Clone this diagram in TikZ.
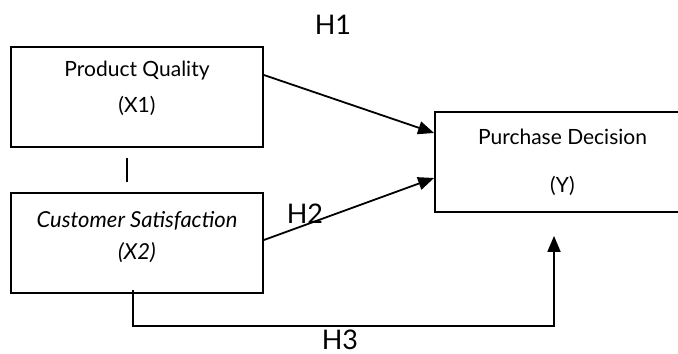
\documentclass[tikz,border=0pt]{standalone}
\usepackage{fontspec}
\setmainfont{Lato}
\usetikzlibrary{arrows.meta,positioning}
\tikzstyle{arrow} = [
    line width=0.9pt,
    -{Triangle[length=8pt,width=6.5pt]}
]
\tikzstyle{line} = [
    line width=0.9pt
]
\tikzstyle{var} = [
    rectangle,
    draw,
    line width=0.9pt,
    minimum width=126pt,
    minimum height=50pt,
    align=center,
    font=\fontsize{10.5}{12}\selectfont
]
\tikzstyle{hyp} = [
    font=\fontsize{13.5}{16}\selectfont
]
\begin{document}
\begin{tikzpicture}[x=0.5pt,y=-0.5pt]
    \useasboundingbox (0,0) rectangle (678,353);
    \clip (0,0) rectangle (678,353);
    % variables
    \node[var, text depth=10pt] (pq) at (137,97) {Product Quality\\[6pt](X1)};
    \node[var, text depth=8pt, font=\fontsize{11}{12.5}\selectfont\itshape] (cs) at (137,243) {Customer Satisfaction\\[3.5pt](X2)};
    \node[var, minimum width=127.5pt, font=\fontsize{10.5}{12}\selectfont] (pd) at (562.5,162) {Purchase Decision\\[12pt](Y)};
    % tick between the two boxes
    \coordinate (tickA) at ([xshift=-5pt,yshift=-5pt]pq.south);
    \coordinate (tickB) at ([xshift=-5pt,yshift=-17pt]pq.south);
    \draw[line] (tickA) -- (tickB);
    % hypotheses
    \draw[arrow] ([yshift=11pt]pq.east) -- ([yshift=14.5pt]pd.west);
    \draw[arrow] ([yshift=1.5pt]cs.east) -- ([yshift=-8pt]pd.west);
    \coordinate (h3start) at ([xshift=-2pt,yshift=2pt]cs.south);
    \coordinate (h3turn) at ([xshift=-2pt,yshift=-16pt]cs.south);
    \coordinate (h3end) at ([xshift=-4.25pt,yshift=-11.5pt]pd.south);
    \draw[arrow] (h3start) -- (h3turn) -- (h3turn -| h3end) -- (h3end);
    \node[hyp] (h1) at (333,25) {H1};
    \node[hyp] (h2) at (305,214) {H2};
    \node[hyp] (h3) at (340,340) {H3};
\end{tikzpicture}
\end{document}
